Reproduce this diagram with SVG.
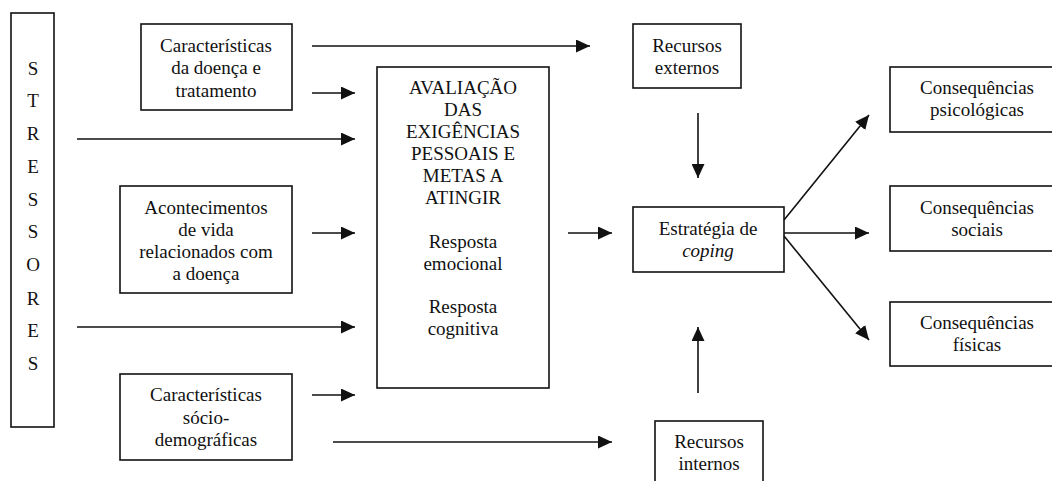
<svg xmlns="http://www.w3.org/2000/svg" width="1052" height="481" viewBox="0 0 1052 481">
<style>
.box{fill:#fff;stroke:#111;stroke-width:1.6}
.lbl{fill:#111;text-anchor:middle;font-family:"Liberation Serif","Times New Roman",serif;font-size:19px}
.c{stroke:#111;stroke-width:1.6;fill:none;marker-end:url(#ah)}
</style>
<defs>
<marker id="ah" markerUnits="userSpaceOnUse" markerWidth="15" markerHeight="13" refX="14" refY="6.5" orient="auto">
<path d="M0,0 L14,6.5 L0,13 Z" fill="#111"/>
</marker>
</defs>
<rect width="1052" height="481" fill="#fff"/>
<g id="stressores">
<rect class="box" x="11" y="13" width="43" height="414"/>
<text class="lbl" style="font-family:'Times New Roman','Liberation Serif',serif;font-size:19px" x="33" y="75">S</text>
<text class="lbl" style="font-family:'Times New Roman','Liberation Serif',serif;font-size:19px" x="33" y="107">T</text>
<text class="lbl" style="font-family:'Times New Roman','Liberation Serif',serif;font-size:19px" x="33" y="140">R</text>
<text class="lbl" style="font-family:'Times New Roman','Liberation Serif',serif;font-size:19px" x="33" y="173">E</text>
<text class="lbl" style="font-family:'Times New Roman','Liberation Serif',serif;font-size:19px" x="33" y="206">S</text>
<text class="lbl" style="font-family:'Times New Roman','Liberation Serif',serif;font-size:19px" x="33" y="238">S</text>
<text class="lbl" style="font-family:'Times New Roman','Liberation Serif',serif;font-size:19px" x="33" y="271">O</text>
<text class="lbl" style="font-family:'Times New Roman','Liberation Serif',serif;font-size:19px" x="33" y="305">R</text>
<text class="lbl" style="font-family:'Times New Roman','Liberation Serif',serif;font-size:19px" x="33" y="337">E</text>
<text class="lbl" style="font-family:'Times New Roman','Liberation Serif',serif;font-size:19px" x="33" y="370">S</text>
</g>
<g id="caracteristicas-doenca">
<rect class="box" x="141" y="24" width="151" height="86"/>
<text class="lbl" style="font-family:'Times New Roman','Liberation Serif',serif;font-size:19px" x="216" y="52">Características</text>
<text class="lbl" style="font-family:'Times New Roman','Liberation Serif',serif;font-size:19px" x="216" y="74">da doença e</text>
<text class="lbl" style="font-family:'Times New Roman','Liberation Serif',serif;font-size:19px" x="216" y="97">tratamento</text>
</g>
<g id="acontecimentos">
<rect class="box" x="120" y="186" width="172" height="107"/>
<text class="lbl" style="font-family:'Times New Roman','Liberation Serif',serif;font-size:19px" x="206" y="214">Acontecimentos</text>
<text class="lbl" style="font-family:'Times New Roman','Liberation Serif',serif;font-size:19px" x="206" y="236">de vida</text>
<text class="lbl" style="font-family:'Times New Roman','Liberation Serif',serif;font-size:19px" x="206" y="258">relacionados com</text>
<text class="lbl" style="font-family:'Times New Roman','Liberation Serif',serif;font-size:19px" x="206" y="280">a doença</text>
</g>
<g id="caracteristicas-socio">
<rect class="box" x="120" y="374" width="172" height="86"/>
<text class="lbl" style="font-family:'Times New Roman','Liberation Serif',serif;font-size:19px" x="206" y="401">Características</text>
<text class="lbl" style="font-family:'Times New Roman','Liberation Serif',serif;font-size:19px" x="206" y="424">sócio-</text>
<text class="lbl" style="font-family:'Times New Roman','Liberation Serif',serif;font-size:19px" x="206" y="446">demográficas</text>
</g>
<g id="avaliacao">
<rect class="box" x="377" y="67" width="172" height="321"/>
<text class="lbl" style="font-family:'Times New Roman','Liberation Serif',serif;font-size:19px" x="463" y="94">AVALIAÇÃO</text>
<text class="lbl" style="font-family:'Times New Roman','Liberation Serif',serif;font-size:19px" x="463" y="116">DAS</text>
<text class="lbl" style="font-family:'Times New Roman','Liberation Serif',serif;font-size:19px" x="463" y="138">EXIGÊNCIAS</text>
<text class="lbl" style="font-family:'Times New Roman','Liberation Serif',serif;font-size:19px" x="463" y="160">PESSOAIS E</text>
<text class="lbl" style="font-family:'Times New Roman','Liberation Serif',serif;font-size:19px" x="463" y="182">METAS A</text>
<text class="lbl" style="font-family:'Times New Roman','Liberation Serif',serif;font-size:19px" x="463" y="204">ATINGIR</text>
<text class="lbl" style="font-family:'Times New Roman','Liberation Serif',serif;font-size:19px" x="463" y="248">Resposta</text>
<text class="lbl" style="font-family:'Times New Roman','Liberation Serif',serif;font-size:19px" x="463" y="270">emocional</text>
<text class="lbl" style="font-family:'Times New Roman','Liberation Serif',serif;font-size:19px" x="463" y="313">Resposta</text>
<text class="lbl" style="font-family:'Times New Roman','Liberation Serif',serif;font-size:19px" x="463" y="335">cognitiva</text>
</g>
<g id="recursos-externos">
<rect class="box" x="633" y="24" width="108" height="64"/>
<text class="lbl" style="font-family:'Times New Roman','Liberation Serif',serif;font-size:19px" x="687" y="52">Recursos</text>
<text class="lbl" style="font-family:'Times New Roman','Liberation Serif',serif;font-size:19px" x="687" y="74">externos</text>
</g>
<g id="estrategia">
<rect class="box" x="633" y="207" width="151" height="65"/>
<text class="lbl" style="font-family:'Times New Roman','Liberation Serif',serif;font-size:19px" x="708" y="235">Estratégia de</text>
<text class="lbl" style="font-family:'Times New Roman','Liberation Serif',serif;font-size:19px;font-style:italic" x="708" y="257">coping</text>
</g>
<g id="recursos-internos">
<rect class="box" x="655" y="421" width="108" height="70"/>
<text class="lbl" style="font-family:'Times New Roman','Liberation Serif',serif;font-size:19px" x="709" y="448">Recursos</text>
<text class="lbl" style="font-family:'Times New Roman','Liberation Serif',serif;font-size:19px" x="709" y="470">internos</text>
</g>
<g id="cons-psicologicas">
<rect class="box" x="890" y="67" width="170" height="65"/>
<text class="lbl" style="font-family:'Times New Roman','Liberation Serif',serif;font-size:19px" x="977" y="94">Consequências</text>
<text class="lbl" style="font-family:'Times New Roman','Liberation Serif',serif;font-size:19px" x="977" y="116">psicológicas</text>
</g>
<g id="cons-sociais">
<rect class="box" x="890" y="186" width="170" height="65"/>
<text class="lbl" style="font-family:'Times New Roman','Liberation Serif',serif;font-size:19px" x="977" y="214">Consequências</text>
<text class="lbl" style="font-family:'Times New Roman','Liberation Serif',serif;font-size:19px" x="977" y="236">sociais</text>
</g>
<g id="cons-fisicas">
<rect class="box" x="890" y="302" width="170" height="64"/>
<text class="lbl" style="font-family:'Times New Roman','Liberation Serif',serif;font-size:19px" x="977" y="329">Consequências</text>
<text class="lbl" style="font-family:'Times New Roman','Liberation Serif',serif;font-size:19px" x="977" y="351">físicas</text>
</g>
<g id="connectors">
<line class="c" x1="312" y1="46" x2="590" y2="46"/>
<line class="c" x1="312" y1="93" x2="355" y2="93"/>
<line class="c" x1="77" y1="139" x2="355" y2="139"/>
<line class="c" x1="312" y1="233" x2="355" y2="233"/>
<line class="c" x1="77" y1="327" x2="355" y2="327"/>
<line class="c" x1="312" y1="395" x2="355" y2="395"/>
<line class="c" x1="333" y1="442" x2="612" y2="442"/>
<line class="c" x1="568" y1="233" x2="612" y2="233"/>
<line class="c" x1="698" y1="113" x2="698" y2="178"/>
<line class="c" x1="698" y1="393" x2="698" y2="327"/>
<line class="c" x1="784" y1="220" x2="869" y2="115"/>
<line class="c" x1="784" y1="233" x2="869" y2="233"/>
<line class="c" x1="784" y1="236" x2="869" y2="340"/>
</g>
</svg>
